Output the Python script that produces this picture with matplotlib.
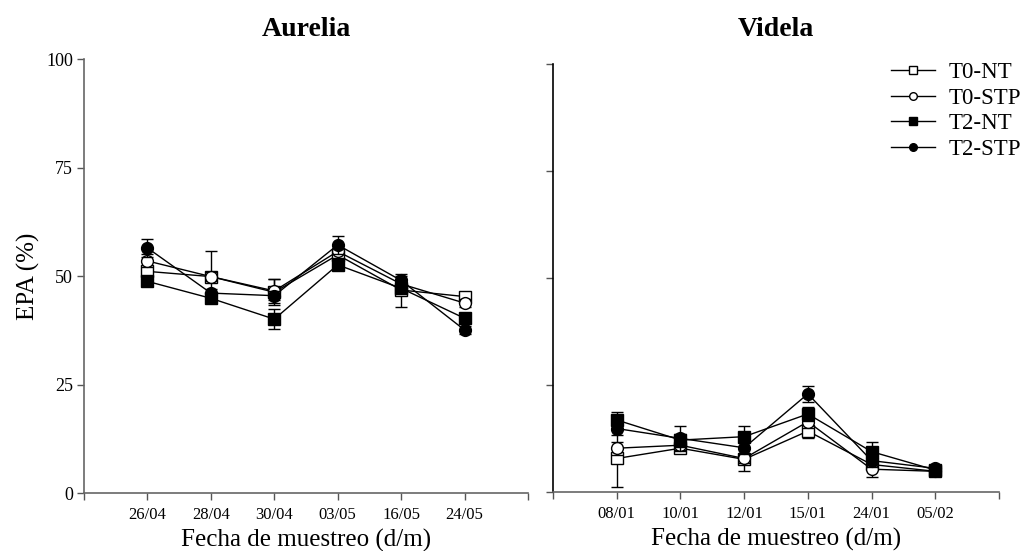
import matplotlib
matplotlib.use("Agg")
import matplotlib.pyplot as plt
from matplotlib.lines import Line2D

plt.rcParams['font.family'] = ['Liberation Serif', 'DejaVu Serif']

# ---- data ----
dates_aurelia = ["26/04", "28/04", "30/04", "03/05", "16/05", "24/05"]
dates_videla = ["08/01", "10/01", "12/01", "15/01", "24/01", "05/02"]
series_names = ["T0-NT", "T0-STP", "T2-NT", "T2-STP"]

aurelia_T0_NT = [51.1, 49.9, 46.3, 54.9, 46.8, 45.3]
aurelia_T0_STP = [53.5, 49.9, 46.6, 55.7, 48.2, 43.8]
aurelia_T2_NT = [48.8, 44.9, 40.1, 52.6, 47.2, 40.3]
aurelia_T2_STP = [56.5, 46.1, 45.5, 57.2, 49.0, 37.6]

aurelia_T0_NT_err = [2.5, 5.8, 3.0, 1.5, 3.8, 1.0]
aurelia_T0_STP_err = [1.5, 1.0, 2.7, 1.5, 1.0, 1.0]
aurelia_T2_NT_err = [1.0, 1.0, 2.3, 1.0, 1.0, 1.0]
aurelia_T2_STP_err = [2.0, 1.0, 1.0, 2.1, 1.0, 1.0]

videla_T0_NT = [7.9, 10.3, 7.7, 14.3, 6.5, 4.9]
videla_T0_STP = [10.3, 11.0, 7.9, 16.5, 5.4, 4.9]
videla_T2_NT = [16.9, 12.2, 13.0, 18.3, 9.5, 5.2]
videla_T2_STP = [14.9, 12.6, 10.4, 23.0, 7.4, 5.6]

videla_T0_NT_err = [6.6, 1.0, 2.7, 1.5, 1.0, 0.5]
videla_T0_STP_err = [1.5, 1.0, 1.0, 1.5, 1.8, 0.5]
videla_T2_NT_err = [1.9, 1.5, 2.5, 1.6, 2.3, 0.5]
videla_T2_STP_err = [1.5, 2.9, 1.5, 1.8, 1.5, 0.5]

yticks = [0, 25, 50, 75, 100]

styles = {
    "T0-NT": dict(marker='s', mfc='white'),
    "T0-STP": dict(marker='o', mfc='white'),
    "T2-NT": dict(marker='s', mfc='black'),
    "T2-STP": dict(marker='o', mfc='black'),
}

fig = plt.figure(figsize=(10.27, 5.51), dpi=100)
W, H = 1027, 551
ax1 = fig.add_axes([84 / W, 1 - 493.3 / H, (528 - 84) / W, (493.3 - 59) / H])
ax2 = fig.add_axes([553 / W, 1 - 492.3 / H, (999 - 553) / W, (492.3 - 64.3) / H])

panels = [
    (ax1, "Aurelia", dates_aurelia,
     [aurelia_T0_NT, aurelia_T0_STP, aurelia_T2_NT, aurelia_T2_STP],
     [aurelia_T0_NT_err, aurelia_T0_STP_err, aurelia_T2_NT_err, aurelia_T2_STP_err]),
    (ax2, "Videla", dates_videla,
     [videla_T0_NT, videla_T0_STP, videla_T2_NT, videla_T2_STP],
     [videla_T0_NT_err, videla_T0_STP_err, videla_T2_NT_err, videla_T2_STP_err]),
]

for i, (ax, title, dates, vals, errs) in enumerate(panels):
    x = list(range(1, len(dates) + 1))
    for k, (name, v, e) in enumerate(zip(series_names, vals, errs)):
        st = styles[name]
        ax.errorbar(x, v, yerr=e, color='black', lw=1.0, elinewidth=1.0,
                    capsize=4.3, capthick=1.0, marker=st['marker'],
                    markersize=8.5, mfc=st['mfc'], mec='black', mew=1.0,
                    zorder=3 + k)
    ax.set_xlim(0, len(dates) + 1)
    ax.set_ylim(0, 100)
    ax.set_xticks(range(0, len(dates) + 2))
    ax.set_xticklabels([""] + dates + [""], fontsize=12)
    ax.set_yticks(yticks)
    if i == 0:
        ax.set_yticklabels([str(t) for t in yticks], fontsize=13)
        ax.set_ylabel("EPA (%)", fontsize=18, labelpad=4)
    else:
        ax.set_yticklabels([])
    ax.set_xlabel("Fecha de muestreo (d/m)", fontsize=18, labelpad=4)
    pos = ax.get_position()
    fig.text((pos.x0 + pos.x1) / 2, 1 - 30 / H, title, fontsize=20,
             fontweight='bold', ha='center', va='center')
    for s in ['top', 'right']:
        ax.spines[s].set_visible(False)
    ax.spines['bottom'].set_color('#666666')
    ax.spines['left'].set_color('#666666' if i == 0 else 'black')
    ax.spines['bottom'].set_linewidth(1.2)
    ax.spines['left'].set_linewidth(1.2)
    ax.tick_params(axis='both', direction='out', length=5, width=1.0,
                   colors='#555555', labelcolor='black', pad=3)
    ax.tick_params(axis='x', pad=5)

handles = []
for name in series_names:
    st = styles[name]
    handles.append(Line2D([], [], color='black', lw=1.0, marker=st['marker'],
                          markersize=5.5, mfc=st['mfc'], mec='black', mew=1.0))
fig.legend(handles, series_names, loc='upper left',
           bbox_to_anchor=(891 / W, 1 - 62 / H), frameon=False,
           fontsize=16.5, handlelength=1.9, handletextpad=0.6,
           labelspacing=0.2, borderpad=0, borderaxespad=0)

fig.savefig("out.png", dpi=100)
